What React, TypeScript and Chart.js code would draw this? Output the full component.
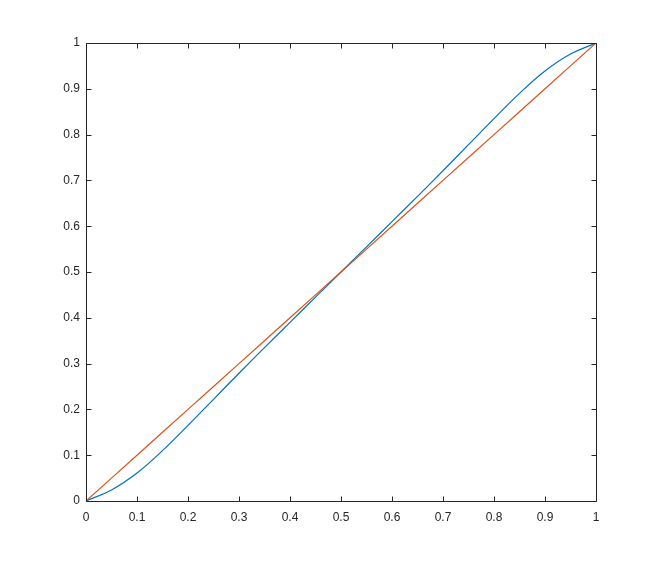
import React, { useEffect, useRef } from "react";
import { Chart, registerables } from "chart.js";

Chart.register(...registerables);

const xValues = [0, 0.05, 0.1, 0.15, 0.2, 0.25, 0.3, 0.35, 0.4, 0.45, 0.5, 0.55, 0.6, 0.65, 0.7, 0.75, 0.8, 0.85, 0.9, 0.95, 1];
const blueValues = [0, 0.024, 0.061, 0.11, 0.165, 0.222, 0.279, 0.335, 0.39, 0.445, 0.5, 0.555, 0.61, 0.665, 0.721, 0.778, 0.835, 0.89, 0.939, 0.976, 1];
const orangeValues = [0, 0.05, 0.1, 0.15, 0.2, 0.25, 0.3, 0.35, 0.4, 0.45, 0.5, 0.55, 0.6, 0.65, 0.7, 0.75, 0.8, 0.85, 0.9, 0.95, 1];
const xTicks = [0, 0.1, 0.2, 0.3, 0.4, 0.5, 0.6, 0.7, 0.8, 0.9, 1];
const yTicks = [0, 0.1, 0.2, 0.3, 0.4, 0.5, 0.6, 0.7, 0.8, 0.9, 1];
const xTickLabels = ["0", "0.1", "0.2", "0.3", "0.4", "0.5", "0.6", "0.7", "0.8", "0.9", "1"];
const yTickLabels = ["0", "0.1", "0.2", "0.3", "0.4", "0.5", "0.6", "0.7", "0.8", "0.9", "1"];

const AXIS_COLOR = "#262626";

const boxTicksPlugin = {
  id: "boxTicks",
  afterDatasetsDraw(chart: any) {
    const { ctx, chartArea, scales } = chart;
    const { left, right, top, bottom } = chartArea;
    ctx.save();
    ctx.strokeStyle = AXIS_COLOR;
    ctx.lineWidth = 1;
    ctx.beginPath();
    const L = Math.round(left) + 0.5;
    const R = Math.round(right) + 0.5;
    const T = Math.round(top) + 0.5;
    const B = Math.round(bottom) + 0.5;
    ctx.rect(L, T, R - L, B - T);
    const len = 5;
    for (const v of xTicks) {
      const px = Math.round(scales.x.getPixelForValue(v)) + 0.5;
      ctx.moveTo(px, B);
      ctx.lineTo(px, B - len);
      ctx.moveTo(px, T);
      ctx.lineTo(px, T + len);
    }
    for (const v of yTicks) {
      const py = Math.round(scales.y.getPixelForValue(v)) + 0.5;
      ctx.moveTo(L, py);
      ctx.lineTo(L + len, py);
      ctx.moveTo(R, py);
      ctx.lineTo(R - len, py);
    }
    ctx.stroke();
    ctx.restore();
  },
};

export default function App() {
  const ref = useRef<HTMLCanvasElement>(null);
  useEffect(() => {
    if (!ref.current) return;
    const font = { family: "'Liberation Sans', Arial, sans-serif", size: 12 };
    const chart = new Chart(ref.current, {
      type: "line",
      data: {
        datasets: [
          {
            label: "blue",
            data: xValues.map((x, i) => ({ x, y: blueValues[i] })),
            borderColor: "#0072BD",
            borderWidth: 1.2,
            pointRadius: 0,
            fill: false,
            tension: 0.4,
            order: 1,
          },
          {
            label: "orange",
            data: xValues.map((x, i) => ({ x, y: orangeValues[i] })),
            borderColor: "#D95319",
            borderWidth: 1.2,
            pointRadius: 0,
            fill: false,
            tension: 0,
            order: 0,
          },
        ],
      },
      options: {
        animation: false,
        responsive: false,
        maintainAspectRatio: false,
        layout: { padding: { left: 0, top: 43, right: 63, bottom: 0 } },
        plugins: { legend: { display: false }, tooltip: { enabled: false } },
        scales: {
          x: {
            type: "linear",
            min: 0,
            max: 1,
            grid: { display: false, drawTicks: false },
            border: { display: false },
            afterBuildTicks: (s: any) => {
              s.ticks = xTicks.map((v) => ({ value: v }));
            },
            afterFit: (s: any) => {
              s.height = 62;
            },
            ticks: {
              color: AXIS_COLOR,
              font,
              padding: 9,
              maxRotation: 0,
              autoSkip: false,
              callback: (v: any) => {
                const i = xTicks.findIndex((t) => Math.abs(t - v) < 1e-9);
                return i >= 0 ? xTickLabels[i] : "";
              },
            },
          },
          y: {
            type: "linear",
            min: 0,
            max: 1,
            grid: { display: false, drawTicks: false },
            border: { display: false },
            afterBuildTicks: (s: any) => {
              s.ticks = yTicks.map((v) => ({ value: v }));
            },
            afterFit: (s: any) => {
              s.width = 86;
            },
            ticks: {
              color: AXIS_COLOR,
              font,
              padding: 6,
              autoSkip: false,
              callback: (v: any) => {
                const i = yTicks.findIndex((t) => Math.abs(t - v) < 1e-9);
                return i >= 0 ? yTickLabels[i] : "";
              },
            },
          },
        },
      },
      plugins: [boxTicksPlugin],
    } as any);
    return () => chart.destroy();
  }, []);
  return (
    <div style={{ position: "fixed", left: 0, top: 0, width: 659, height: 563, background: "#fff" }}>
      <canvas ref={ref} width={659} height={563} style={{ width: 659, height: 563, display: "block" }} />
    </div>
  );
}
